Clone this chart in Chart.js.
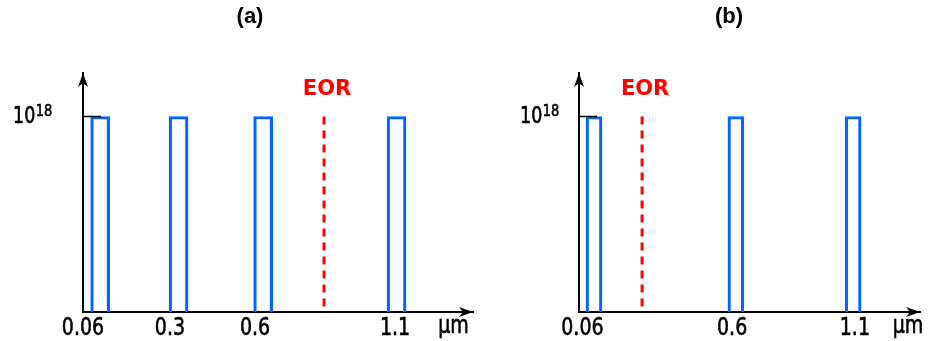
<!DOCTYPE html>
<html>
<head>
<meta charset="utf-8">
<script src="https://cdn.jsdelivr.net/npm/chart.js@4"></script>
<style>
  body { margin: 0; background: #fff; }
  #wrap { position: relative; width: 928px; height: 341px; }
  canvas { position: absolute; top: 0; }
</style>
</head>
<body>
<div id="wrap">
  <canvas id="chartA" width="490" height="341" style="left:0"></canvas>
  <canvas id="chartB" width="438" height="341" style="left:490px"></canvas>
</div>
<script>
// schematic depth axis, 0..100 (not to scale)
const barPosA = [4.4, 24.5, 46.2, 80.4];
const barPosB = [4.4, 46.0, 80.4];
const tickPosA = [0, 22.3, 44.1, 80];
const tickLabelsA = ['0.06', '0.3', '0.6', '1.1'];
const tickPosB = [1, 44.9, 80.9];
const tickLabelsB = ['0.06', '0.6', '1.1'];
const eorA = 61.8;
const eorB = 18.5;
const DOSE = 1; // the 10^18 level

const BLUE = '#0066ff';
const RED = '#ff0000';
const FONT = "'DejaVu Sans', sans-serif";
const STRETCH = 1.28; // axis labels in the original are drawn taller than wide

function arrowHead(ctx, x, y, dir) {
    ctx.beginPath();
    if (dir === 'up') {
        ctx.moveTo(x, y);
        ctx.lineTo(x - 5, y + 14);
        ctx.lineTo(x, y + 10);
        ctx.lineTo(x + 5, y + 14);
    } else {
        ctx.moveTo(x, y);
        ctx.lineTo(x - 14, y - 5);
        ctx.lineTo(x - 10, y);
        ctx.lineTo(x - 14, y + 5);
    }
    ctx.closePath();
    ctx.fill();
}

// stretched text with a hairline stroke so it reads as heavy as the original
function tallText(ctx, text, x, baseline) {
    ctx.save();
    ctx.translate(x, baseline);
    ctx.scale(1, STRETCH);
    ctx.lineWidth = 0.5;
    ctx.strokeStyle = ctx.fillStyle;
    ctx.fillText(text, 0, 0);
    ctx.strokeText(text, 0, 0);
    ctx.restore();
}

// axes arrows, tick labels, 10^18 mark, EOR line and the loose labels
const schematic = {
    id: 'schematic',
    afterDraw(chart, args, opts) {
        const { ctx, chartArea: a, scales: { x, y } } = chart;
        const yTop = y.getPixelForValue(DOSE);
        ctx.save();
        ctx.fillStyle = '#000';
        arrowHead(ctx, a.left, a.top, 'up');
        arrowHead(ctx, a.right, a.bottom, 'right');

        // x tick labels at the scale's own tick positions
        ctx.font = `19px ${FONT}`;
        ctx.textAlign = 'center';
        ctx.textBaseline = 'alphabetic';
        x.ticks.forEach((t, i) => tallText(ctx, t.label, x.getPixelForTick(i), 335));
        tallText(ctx, 'μm', x.getPixelForValue(opts.unitAt), 333);

        ctx.strokeStyle = '#000';
        ctx.lineWidth = 1.5;
        ctx.beginPath();
        ctx.moveTo(a.left, yTop);
        ctx.lineTo(a.left + 18, yTop);
        ctx.stroke();

        ctx.textAlign = 'left';
        ctx.font = `17.5px ${FONT}`;
        tallText(ctx, '10', opts.expX, yTop + 6.5);
        const w = ctx.measureText('10').width;
        ctx.font = `13px ${FONT}`;
        tallText(ctx, '18', opts.expX + w + 0.5, yTop);

        const xe = x.getPixelForValue(opts.eor);
        ctx.strokeStyle = RED;
        ctx.lineWidth = 3;
        ctx.setLineDash([8, 6]);
        ctx.beginPath();
        ctx.moveTo(xe, yTop);
        ctx.lineTo(xe, a.bottom);
        ctx.stroke();
        ctx.setLineDash([]);

        ctx.textAlign = 'center';
        ctx.textBaseline = 'middle';
        ctx.fillStyle = RED;
        ctx.font = `bold 21px ${FONT}`;
        ctx.fillText('EOR', xe + 3, 89.5);

        ctx.fillStyle = '#000';
        ctx.font = "bold 22px 'Liberation Sans', Arial, sans-serif";
        ctx.fillText(opts.title, opts.titleX, 17);
        ctx.restore();
    }
};

function makePanel(id, barPos, tickPos, tickLabels, opts) {
    new Chart(document.getElementById(id), {
        type: 'bar',
        data: {
            datasets: [{
                data: barPos.map(p => ({ x: p, y: DOSE })),
                borderColor: BLUE,
                backgroundColor: 'rgba(0,0,0,0)',
                borderWidth: 2.5,
                barThickness: opts.barW
            }]
        },
        options: {
            responsive: false,
            animation: false,
            layout: { padding: { left: opts.left, right: opts.right, top: 73, bottom: 0 } },
            plugins: {
                legend: { display: false },
                tooltip: { enabled: false },
                schematic: opts
            },
            scales: {
                x: {
                    type: 'linear',
                    min: 0,
                    max: 100,
                    offset: false,
                    grid: { display: false },
                    border: { color: '#000', width: 2 },
                    afterBuildTicks: s => { s.ticks = tickPos.map(v => ({ value: v })); },
                    afterFit: s => { s.height = 29; },
                    ticks: {
                        autoSkip: false,
                        maxRotation: 0,
                        color: 'rgba(0,0,0,0)', // drawn taller by the plugin
                        font: { family: FONT, size: 19 },
                        callback: (v, i) => tickLabels[i]
                    }
                },
                y: {
                    min: 0,
                    max: 1.2225,
                    grid: { display: false },
                    border: { color: '#000', width: 2 },
                    ticks: { display: false },
                    afterFit: s => { s.width = 0; }
                }
            }
        },
        plugins: [schematic]
    });
}

makePanel('chartA', barPosA, tickPosA, tickLabelsA, {
    left: 83, right: 17, barW: 19, eor: eorA, unitAt: 95,
    expX: 13, title: '(a)', titleX: 250
});
makePanel('chartB', barPosB, tickPosB, tickLabelsB, {
    left: 89, right: 8, barW: 16, eor: eorB, unitAt: 96.5,
    expX: 30, title: '(b)', titleX: 239
});
</script>
</body>
</html>
